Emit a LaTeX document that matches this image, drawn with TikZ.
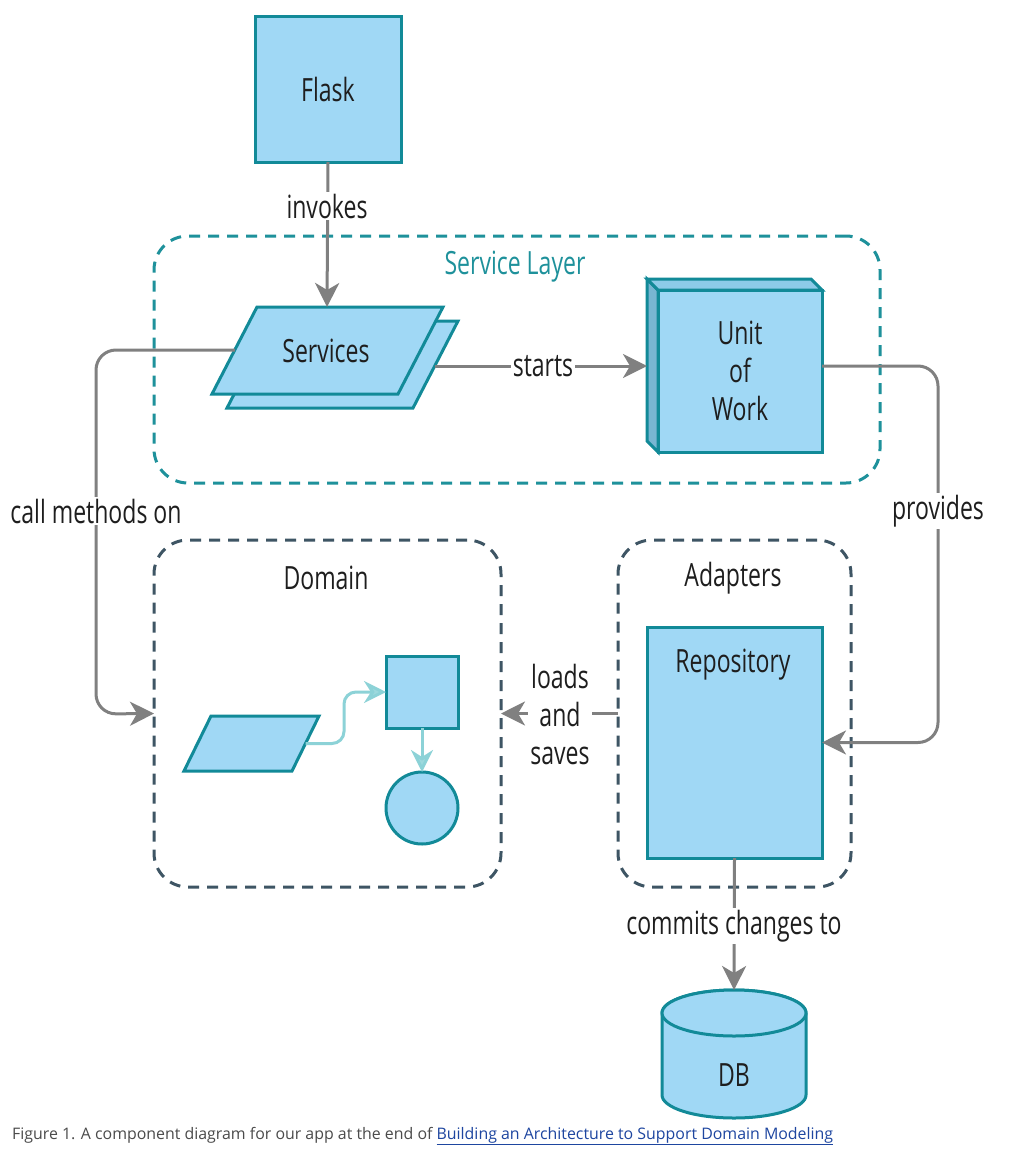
\documentclass[tikz,border=0pt]{standalone}
\usepackage{fontspec}
\setmainfont{Open Sans}
\newfontfamily\diafont[FakeStretch=0.72]{Open Sans}
\usetikzlibrary{positioning,calc,arrows.meta}
\definecolor{boxfill}{RGB}{160,216,245}
\definecolor{boxline}{RGB}{18,138,152}
\definecolor{sidefill}{RGB}{120,182,210}
\definecolor{topfill}{RGB}{140,203,232}
\definecolor{arrowgray}{RGB}{128,128,128}
\definecolor{svcdash}{RGB}{30,145,155}
\definecolor{domdash}{RGB}{62,85,100}
\definecolor{innerline}{RGB}{140,210,215}
\definecolor{textcol}{RGB}{30,30,30}
\definecolor{capgray}{RGB}{75,75,75}
\definecolor{linkblue}{RGB}{30,70,160}
\tikzset{
  box/.style={draw=boxline, fill=boxfill, line width=3pt, line join=miter},
  nodebox/.style={box, inner sep=0pt, outer sep=0pt},
  txt/.style={font=\diafont\fontsize{32}{38}\selectfont, text=textcol, inner sep=2pt},
  conn/.style={draw=arrowgray, line width=3pt, rounded corners=20pt},
  arrowtip/.style={-{Stealth[length=24pt,width=24pt,inset=7pt]}},
  dashbox/.style={line width=3pt, dash pattern=on 11pt off 8pt, rounded corners=34pt, inner sep=0pt, outer sep=0pt},
  inner/.style={draw=innerline, line width=3pt, rounded corners=12pt,
    -{Stealth[length=22pt,width=22pt,inset=7pt,fill=innerline!85]}}
}
\begin{document}
\begin{tikzpicture}[x=1pt,y=-1pt]
    \useasboundingbox[fill=white] (0,0) rectangle (1023,1153);

    % dashed groups
    \node[dashbox, draw=svcdash, minimum width=726pt, minimum height=247pt] (svclayer) at (517,359.5) {};
    \node[dashbox, draw=domdash, minimum width=347pt, minimum height=347pt] (domain) at (327.5,713.5) {};
    \node[dashbox, draw=domdash, minimum width=233pt, minimum height=347pt] (adapters) at (734.5,713.5) {};
    \node[txt, text=svcdash] (svctitle) at (515,267) {Service Layer};
    \node[txt] (domtitle) at (326,578) {Domain};
    \node[txt] (adtitle) at (733,578) {Adapters};

    % flask
    \node[nodebox, minimum width=146pt, minimum height=145pt] (flask) at (328,89.5) {};
    \node[txt] (flasktxt) at (flask) {Flask};

    % services (two stacked parallelograms)
    \filldraw[box] (272,321) -- (458,321) -- (413,408) -- (227,408) -- cycle;
    \filldraw[box] (257,307) -- (443,307) -- (398,394) -- (212,394) -- cycle;
    \node[txt] (services) at (326,351) {Services};
    \coordinate (svtop) at (327,307);
    \coordinate (svleft) at (234.8,350);
    \coordinate (svright) at (434.7,366);

    % unit of work
    \filldraw[box, fill=sidefill] (647,279) -- (658,290) -- (658,452) -- (647,441) -- cycle;
    \filldraw[box, fill=topfill] (647,279) -- (811,279) -- (822,290) -- (658,290) -- cycle;
    \node[nodebox, minimum width=164pt, minimum height=162pt] (uow) at (740,371) {};
    \node[txt, align=center] (uowtxt) at (uow) {Unit\\of\\Work};
    \coordinate (uowside) at (647,366);

    % repository
    \node[nodebox, minimum width=175pt, minimum height=231pt] (repo) at (734.5,742.5) {};
    \node[txt] (repotxt) at (733,665) {Repository};

    % domain contents
    \filldraw[box] (211,716) -- (319,716) -- (292,771) -- (184,771) -- cycle;
    \coordinate (dpar) at (305.5,743.5);
    \node[nodebox, minimum width=72pt, minimum height=72pt] (dsq) at (422,692) {};
    \node[nodebox, circle, minimum size=72pt] (dcirc) at (422,808) {};

    % db
    \filldraw[box] (662,1013) -- (662,1095) arc[start angle=180, end angle=360, x radius=72pt, y radius=23pt]
        -- (806,1013) arc[start angle=0, end angle=180, x radius=72pt, y radius=23pt];
    \draw[box] (734,1013) ellipse[x radius=72pt, y radius=23pt];
    \node[txt] (db) at (734,1075) {DB};
    \coordinate (dbtop) at (734,990);

    % connectors
    \draw[conn, arrowtip] (flask.south) -- (svtop);
    \draw[conn, arrowtip] (svright) -- (uowside);
    \draw[conn, arrowtip] (svleft) -- (96,350) -- (96,714) -- (domain.west);
    \draw[conn, arrowtip] ([yshift=5pt]uow.east) -- (938,366) -- (938,742.5) -- (repo.east);
    \draw[conn, arrowtip] (adapters.west) -- (domain.east);
    \draw[conn, arrowtip] (repo.south) -- (dbtop);
    \draw[inner] (dpar) -| (344,692) -- (dsq.west);
    \draw[inner] (dsq.south) -- (dcirc.north);

    % labels on the connectors
    \node[txt, fill=white] (invokes) at (327,206) {invokes};
    \node[txt, fill=white] (starts) at (543,366) {starts};
    \node[txt, fill=white] (callon) at (96,511) {call methods on};
    \node[txt, fill=white] (provides) at (938,511) {provides};
    \node[txt, fill=white, align=center] (loads) at (560,714) {loads\\and\\saves};
    \node[txt, fill=white] (commits) at (734,926) {commits changes to};

    % caption
    \node[anchor=base west, inner sep=0pt, font=\fontsize{15.9}{20}\selectfont, text=capgray] (caption) at (12,1139)
        {Figure 1. A component diagram for our app at the end of \textcolor{linkblue}{\underline{Building an Architecture to Support Domain Modeling}}};
\end{tikzpicture}
\end{document}
